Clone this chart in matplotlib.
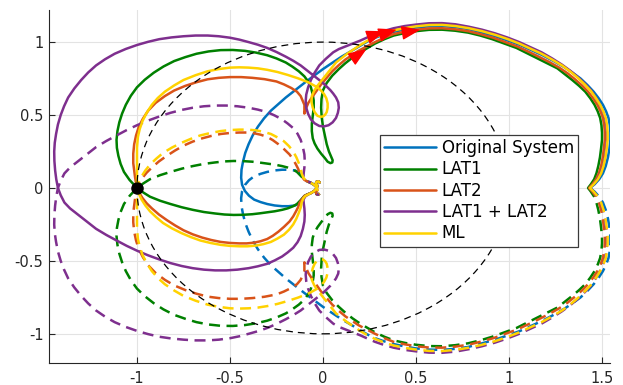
import numpy as np
import matplotlib
matplotlib.use("Agg")
import matplotlib.pyplot as plt
from matplotlib.patches import Circle
from matplotlib.markers import MarkerStyle
from matplotlib.path import Path
from matplotlib.transforms import Affine2D

# Nyquist curves, positive-frequency branch as (Re, Im) pairs.
# The negative-frequency branch is the complex conjugate (dashed).
labels = ["Original System", "LAT1", "LAT2", "LAT1 + LAT2", "ML"]
colors = ["#0072BD", "#008000", "#D95319", "#7E2F8E", "#FFD200"]

orig_pts = [
    (1.435, 0.00), (1.46, 0.025), (1.485, 0.06), (1.505, 0.10), (1.52, 0.15),
    (1.532, 0.21), (1.54, 0.27), (1.545, 0.33), (1.545, 0.38), (1.542, 0.43),
    (1.535, 0.48), (1.522, 0.525), (1.505, 0.57), (1.482, 0.615), (1.455, 0.66),
    (1.422, 0.705), (1.385, 0.75), (1.342, 0.79), (1.295, 0.83), (1.24, 0.87),
    (1.18, 0.91), (1.12, 0.945), (1.06, 0.98), (0.995, 1.01), (0.925, 1.04),
    (0.855, 1.065), (0.78, 1.09), (0.71, 1.103), (0.64, 1.11), (0.57, 1.108),
    (0.50, 1.10), (0.44, 1.087), (0.38, 1.07), (0.33, 1.052), (0.28, 1.03),
    (0.24, 1.005), (0.20, 0.975), (0.15, 0.937), (0.10, 0.90), (0.05, 0.858),
    (0.0, 0.815), (-0.05, 0.768), (-0.10, 0.72), (-0.15, 0.67), (-0.20, 0.62),
    (-0.24, 0.575), (-0.28, 0.53), (-0.317, 0.477), (-0.35, 0.42), (-0.378, 0.36),
    (-0.40, 0.30), (-0.418, 0.24), (-0.43, 0.18), (-0.438, 0.125), (-0.44, 0.07),
    (-0.435, 0.022), (-0.42, -0.02), (-0.398, -0.053), (-0.37, -0.08), (-0.335, -0.097),
    (-0.30, -0.11), (-0.26, -0.12), (-0.22, -0.125), (-0.185, -0.125), (-0.15, -0.12),
    (-0.13, -0.108), (-0.12, -0.09), (-0.11, -0.07), (-0.10, -0.055), (-0.085, -0.045),
    (-0.065, -0.035), (-0.048, -0.022), (-0.035, -0.005), (-0.03, 0.015), (-0.038, 0.03),
    (-0.035, 0.042), (-0.025, 0.045), (-0.018, 0.038),
]

lat1_pts = [
    (1.425, 0.00), (1.44, 0.025), (1.458, 0.06), (1.47, 0.10), (1.48, 0.15),
    (1.489, 0.21), (1.495, 0.27), (1.50, 0.33), (1.50, 0.38), (1.497, 0.43),
    (1.49, 0.48), (1.477, 0.525), (1.46, 0.57), (1.437, 0.615), (1.41, 0.66),
    (1.377, 0.70), (1.34, 0.74), (1.30, 0.78), (1.26, 0.82), (1.205, 0.855),
    (1.15, 0.89), (1.095, 0.925), (1.04, 0.96), (0.975, 0.99), (0.91, 1.02),
    (0.845, 1.045), (0.78, 1.065), (0.71, 1.078), (0.64, 1.085), (0.57, 1.084),
    (0.50, 1.075), (0.44, 1.062), (0.38, 1.045), (0.33, 1.02), (0.28, 0.99),
    (0.24, 0.96), (0.20, 0.93), (0.16, 0.895), (0.12, 0.855), (0.085, 0.815),
    (0.05, 0.77), (0.02, 0.72), (0.0, 0.67), (-0.008, 0.61), (-0.01, 0.55),
    (-0.007, 0.485), (0.0, 0.42), (0.01, 0.36), (0.02, 0.30), (0.032, 0.25),
    (0.045, 0.21), (0.052, 0.19), (0.05, 0.175), (0.04, 0.17), (0.025, 0.18),
    (0.01, 0.205), (-0.01, 0.235), (-0.03, 0.27), (-0.045, 0.305), (-0.055, 0.34),
    (-0.06, 0.39), (-0.06, 0.44), (-0.055, 0.495), (-0.05, 0.55), (-0.05, 0.60),
    (-0.055, 0.64), (-0.065, 0.69), (-0.08, 0.73), (-0.10, 0.765), (-0.13, 0.80),
    (-0.165, 0.832), (-0.20, 0.86), (-0.25, 0.888), (-0.30, 0.91), (-0.36, 0.928),
    (-0.42, 0.94), (-0.485, 0.946), (-0.55, 0.945), (-0.615, 0.936), (-0.68, 0.92),
    (-0.74, 0.897), (-0.80, 0.87), (-0.857, 0.833), (-0.91, 0.79), (-0.958, 0.742),
    (-1.00, 0.69), (-1.033, 0.632), (-1.06, 0.57), (-1.08, 0.51), (-1.095, 0.45),
    (-1.105, 0.39), (-1.11, 0.33), (-1.108, 0.275), (-1.10, 0.22), (-1.088, 0.165),
    (-1.07, 0.11), (-1.04, 0.055), (-1.00, 0.00), (-0.965, -0.032), (-0.93, -0.06),
    (-0.875, -0.088), (-0.82, -0.11), (-0.76, -0.132), (-0.70, -0.15), (-0.64, -0.165),
    (-0.58, -0.175), (-0.53, -0.182), (-0.48, -0.185), (-0.43, -0.184), (-0.38, -0.18),
    (-0.34, -0.174), (-0.30, -0.167), (-0.26, -0.16), (-0.22, -0.15), (-0.19, -0.14),
    (-0.16, -0.125), (-0.14, -0.11), (-0.125, -0.09), (-0.11, -0.07), (-0.10, -0.055),
    (-0.085, -0.045), (-0.065, -0.035), (-0.048, -0.022), (-0.035, -0.005), (-0.03, 0.015),
    (-0.038, 0.03), (-0.035, 0.042), (-0.025, 0.045), (-0.018, 0.038),
]

lat2_pts = [
    (1.43, 0.00), (1.448, 0.025), (1.468, 0.06), (1.483, 0.10), (1.495, 0.15),
    (1.504, 0.21), (1.51, 0.27), (1.515, 0.33), (1.515, 0.38), (1.512, 0.43),
    (1.505, 0.48), (1.492, 0.525), (1.475, 0.57), (1.452, 0.615), (1.425, 0.66),
    (1.392, 0.703), (1.355, 0.745), (1.315, 0.786), (1.27, 0.825), (1.217, 0.863),
    (1.16, 0.90), (1.103, 0.935), (1.045, 0.97), (0.98, 1.00), (0.915, 1.03),
    (0.848, 1.054), (0.78, 1.075), (0.71, 1.088), (0.64, 1.095), (0.57, 1.094),
    (0.50, 1.085), (0.44, 1.072), (0.38, 1.055), (0.33, 1.03), (0.28, 1.00),
    (0.235, 0.97), (0.19, 0.94), (0.155, 0.91), (0.12, 0.88), (0.085, 0.842),
    (0.05, 0.80), (0.02, 0.755), (-0.01, 0.71), (-0.035, 0.665), (-0.06, 0.62),
    (-0.078, 0.585), (-0.09, 0.55), (-0.10, 0.51), (-0.10, 0.57), (-0.11, 0.60),
    (-0.12, 0.63), (-0.14, 0.66), (-0.17, 0.685), (-0.21, 0.71), (-0.25, 0.73),
    (-0.315, 0.746), (-0.38, 0.755), (-0.44, 0.76), (-0.50, 0.76), (-0.56, 0.755),
    (-0.62, 0.745), (-0.68, 0.725), (-0.74, 0.70), (-0.80, 0.668), (-0.85, 0.63),
    (-0.90, 0.583), (-0.94, 0.53), (-0.968, 0.475), (-0.99, 0.42), (-1.005, 0.36),
    (-1.015, 0.30), (-1.02, 0.235), (-1.02, 0.17), (-1.015, 0.12), (-1.01, 0.07),
    (-1.005, 0.035), (-1.00, 0.00), (-0.987, -0.035), (-0.97, -0.07), (-0.948, -0.105),
    (-0.92, -0.14), (-0.882, -0.182), (-0.84, -0.22), (-0.795, -0.257), (-0.75, -0.29),
    (-0.70, -0.318), (-0.65, -0.34), (-0.60, -0.357), (-0.55, -0.37), (-0.50, -0.377),
    (-0.45, -0.38), (-0.41, -0.38), (-0.37, -0.375), (-0.335, -0.365), (-0.30, -0.35),
    (-0.27, -0.328), (-0.24, -0.30), (-0.21, -0.267), (-0.18, -0.23), (-0.16, -0.195),
    (-0.145, -0.16), (-0.133, -0.13), (-0.125, -0.10), (-0.112, -0.075), (-0.10, -0.055),
    (-0.085, -0.045), (-0.065, -0.035), (-0.048, -0.022), (-0.035, -0.005), (-0.03, 0.015),
    (-0.038, 0.03), (-0.035, 0.042), (-0.025, 0.045), (-0.018, 0.038),
]

lat12_pts = [
    (1.435, 0.00), (1.455, 0.025), (1.476, 0.06), (1.493, 0.10), (1.506, 0.15),
    (1.516, 0.21), (1.522, 0.27), (1.527, 0.33), (1.527, 0.38), (1.524, 0.43),
    (1.517, 0.48), (1.504, 0.528), (1.487, 0.575), (1.465, 0.622), (1.44, 0.67),
    (1.407, 0.715), (1.37, 0.76), (1.33, 0.803), (1.285, 0.845), (1.232, 0.888),
    (1.175, 0.93), (1.115, 0.965), (1.055, 1.00), (0.99, 1.032), (0.925, 1.06),
    (0.855, 1.085), (0.785, 1.105), (0.712, 1.122), (0.64, 1.13), (0.57, 1.129),
    (0.50, 1.12), (0.44, 1.11), (0.38, 1.095), (0.33, 1.077), (0.28, 1.055),
    (0.24, 1.033), (0.20, 1.01), (0.16, 0.99), (0.12, 0.97), (0.085, 0.952),
    (0.055, 0.93), (0.015, 0.885), (-0.02, 0.84), (-0.045, 0.79), (-0.065, 0.74),
    (-0.08, 0.69), (-0.09, 0.64), (-0.093, 0.595), (-0.09, 0.55), (-0.08, 0.508),
    (-0.065, 0.47), (-0.045, 0.443), (-0.02, 0.425), (0.005, 0.422), (0.03, 0.43),
    (0.052, 0.45), (0.07, 0.48), (0.08, 0.515), (0.085, 0.55), (0.082, 0.587),
    (0.07, 0.62), (0.055, 0.647), (0.04, 0.67), (0.02, 0.695), (0.0, 0.72),
    (-0.025, 0.745), (-0.05, 0.77), (-0.085, 0.805), (-0.12, 0.84), (-0.16, 0.872),
    (-0.20, 0.90), (-0.25, 0.932), (-0.30, 0.96), (-0.35, 0.982), (-0.40, 1.00),
    (-0.45, 1.017), (-0.50, 1.03), (-0.56, 1.04), (-0.62, 1.045), (-0.685, 1.045),
    (-0.75, 1.04), (-0.815, 1.032), (-0.88, 1.02), (-0.94, 1.002), (-1.00, 0.98),
    (-1.06, 0.953), (-1.12, 0.92), (-1.172, 0.882), (-1.22, 0.84), (-1.262, 0.792),
    (-1.30, 0.74), (-1.337, 0.682), (-1.37, 0.62), (-1.392, 0.56), (-1.41, 0.50),
    (-1.425, 0.435), (-1.435, 0.37), (-1.442, 0.31), (-1.445, 0.25), (-1.444, 0.185),
    (-1.44, 0.12), (-1.434, 0.06), (-1.425, 0.00), (-1.41, -0.05), (-1.39, -0.10),
    (-1.36, -0.14), (-1.32, -0.18), (-1.27, -0.23), (-1.22, -0.28), (-1.165, -0.322),
    (-1.11, -0.36), (-1.055, -0.397), (-1.00, -0.43), (-0.94, -0.462), (-0.88, -0.49),
    (-0.82, -0.515), (-0.76, -0.535), (-0.70, -0.55), (-0.64, -0.56), (-0.58, -0.565),
    (-0.52, -0.565), (-0.46, -0.56), (-0.40, -0.55), (-0.35, -0.537), (-0.30, -0.52),
    (-0.26, -0.497), (-0.22, -0.47), (-0.19, -0.442), (-0.16, -0.41), (-0.137, -0.372),
    (-0.12, -0.33), (-0.108, -0.28), (-0.10, -0.23), (-0.098, -0.185), (-0.10, -0.14),
    (-0.103, -0.11), (-0.105, -0.08), (-0.095, -0.058), (-0.08, -0.045), (-0.065, -0.035),
    (-0.048, -0.022), (-0.035, -0.005), (-0.03, 0.015), (-0.038, 0.03), (-0.035, 0.042),
    (-0.025, 0.045), (-0.018, 0.038),
]

ml_pts = [
    (1.435, 0.00), (1.455, 0.025), (1.478, 0.06), (1.495, 0.10), (1.508, 0.15),
    (1.518, 0.21), (1.525, 0.27), (1.53, 0.33), (1.53, 0.38), (1.527, 0.43),
    (1.52, 0.48), (1.507, 0.525), (1.49, 0.57), (1.467, 0.617), (1.44, 0.665),
    (1.407, 0.71), (1.37, 0.755), (1.33, 0.798), (1.285, 0.84), (1.232, 0.88),
    (1.175, 0.92), (1.115, 0.955), (1.055, 0.99), (0.99, 1.022), (0.925, 1.05),
    (0.855, 1.075), (0.785, 1.095), (0.712, 1.11), (0.64, 1.118), (0.57, 1.117),
    (0.50, 1.108), (0.44, 1.096), (0.38, 1.08), (0.33, 1.06), (0.28, 1.035),
    (0.24, 1.01), (0.20, 0.98), (0.165, 0.95), (0.13, 0.92), (0.10, 0.89),
    (0.07, 0.86), (0.045, 0.82), (0.02, 0.78), (-0.005, 0.74), (-0.03, 0.70),
    (-0.048, 0.665), (-0.06, 0.63), (-0.062, 0.59), (-0.055, 0.55), (-0.045, 0.52),
    (-0.03, 0.495), (-0.015, 0.488), (0.0, 0.49), (0.012, 0.503), (0.02, 0.52),
    (0.025, 0.55), (0.025, 0.58), (0.018, 0.615), (0.005, 0.645), (-0.012, 0.67),
    (-0.03, 0.69), (-0.08, 0.725), (-0.135, 0.752), (-0.19, 0.775), (-0.245, 0.795),
    (-0.30, 0.81), (-0.35, 0.82), (-0.40, 0.825), (-0.45, 0.827), (-0.50, 0.825),
    (-0.56, 0.815), (-0.62, 0.80), (-0.685, 0.773), (-0.75, 0.74), (-0.80, 0.703),
    (-0.85, 0.66), (-0.888, 0.617), (-0.92, 0.57), (-0.948, 0.515), (-0.97, 0.46),
    (-0.985, 0.405), (-0.995, 0.35), (-1.00, 0.275), (-1.00, 0.20), (-1.00, 0.14),
    (-1.00, 0.08), (-1.00, 0.00), (-0.99, -0.04), (-0.975, -0.08), (-0.955, -0.12),
    (-0.93, -0.16), (-0.897, -0.20), (-0.86, -0.24), (-0.812, -0.277), (-0.76, -0.31),
    (-0.71, -0.337), (-0.66, -0.36), (-0.605, -0.377), (-0.55, -0.39), (-0.50, -0.397),
    (-0.45, -0.40), (-0.405, -0.40), (-0.36, -0.395), (-0.32, -0.385), (-0.28, -0.37),
    (-0.245, -0.347), (-0.21, -0.32), (-0.183, -0.287), (-0.16, -0.25), (-0.143, -0.21),
    (-0.13, -0.17), (-0.12, -0.135), (-0.115, -0.10), (-0.105, -0.07), (-0.095, -0.055),
    (-0.08, -0.045), (-0.065, -0.035), (-0.048, -0.022), (-0.035, -0.005), (-0.03, 0.015),
    (-0.038, 0.03), (-0.035, 0.042), (-0.025, 0.045), (-0.018, 0.038),
]

curves = [orig_pts, lat1_pts, lat2_pts, lat12_pts, ml_pts]

# direction arrows on the upper arc: (curve index, Re where the arrow sits)
arrow_marks = [(1, 0.19), (3, 0.28), (4, 0.345), (2, 0.47)]

xticks = [-1, -0.5, 0, 0.5, 1, 1.5]
xtick_labels = ["-1", "-0.5", "0", "0.5", "1", "1.5"]
yticks = [-1, -0.5, 0, 0.5, 1]
ytick_labels = ["-1", "-0.5", "0", "0.5", "1"]

W, H = 623, 385
fig = plt.figure(figsize=(W / 100, H / 100), dpi=100)
ax = fig.add_axes([49 / W, 22 / H, 561 / W, 353 / H])
ax.set_xlim(-1.473, 1.543)
ax.set_ylim(-1.2, 1.22)

lw = 1.8
handles = []
for pts, col, lab in zip(curves, colors, labels):
    re = np.array([p[0] for p in pts])
    im = np.array([p[1] for p in pts])
    h, = ax.plot(re, im, color=col, lw=lw, solid_joinstyle="round",
                 solid_capstyle="round", label=lab, zorder=2)
    ax.plot(re, -im, color=col, lw=lw, ls=(0, (4.4, 2.6)), zorder=2)
    handles.append(h)

# unit circle and the critical point
ax.add_patch(Circle((0, 0), 1.0, fill=False, ec="black", lw=0.9,
                    ls=(0, (5.5, 4.0)), zorder=3))
ax.plot([-1], [0], "o", color="black", ms=8, zorder=4)

# red arrowheads pointing along the direction of travel
arrow_path = Path([(-1, -0.75), (1, 0), (-1, 0.75), (-1, -0.75)],
                  [Path.MOVETO, Path.LINETO, Path.LINETO, Path.CLOSEPOLY])
for ci, xt in arrow_marks:
    pts = curves[ci]
    for i in range(len(pts) - 1):
        (x0, y0), (x1, y1) = pts[i], pts[i + 1]
        if y0 > 0.85 and y1 > 0.85 and (x0 - xt) * (x1 - xt) <= 0 and x0 != x1:
            t = (xt - x0) / (x1 - x0)
            xa, ya = x0 + t * (x1 - x0), y0 + t * (y1 - y0)
            p0 = ax.transData.transform((x0, y0))
            p1 = ax.transData.transform((x1, y1))
            d = p0 - p1
            ang = np.arctan2(d[1], d[0])
            m = MarkerStyle(arrow_path, transform=Affine2D().rotate(ang))
            ax.plot([xa], [ya], marker=m, ms=11.5, color="red", mfc="red",
                    mec="red", ls="none", zorder=5)
            break

ax.set_xticks(xticks)
ax.set_xticklabels(xtick_labels)
ax.set_yticks(yticks)
ax.set_yticklabels(ytick_labels)
ax.grid(True, color="#e3e3e3", lw=0.8)
ax.set_axisbelow(True)
for s in ("top", "right"):
    ax.spines[s].set_visible(False)
for s in ("left", "bottom"):
    ax.spines[s].set_color("#262626")
    ax.spines[s].set_linewidth(0.8)
ax.tick_params(direction="in", length=4, width=0.8, colors="#262626",
               labelsize=10.5)
ax.tick_params(axis="x", pad=6)
ax.tick_params(axis="y", pad=4)

leg = ax.legend(handles=handles, loc="upper left", bbox_to_anchor=(0.59, 0.646),
                fontsize=12, frameon=True, fancybox=False, framealpha=1,
                edgecolor="#3a3a3a", borderpad=0.25, labelspacing=0.2,
                handlelength=3.1, handletextpad=0.35, borderaxespad=0)
leg.get_frame().set_linewidth(0.9)
leg.set_zorder(10)

fig.savefig("out.png", dpi=100)
